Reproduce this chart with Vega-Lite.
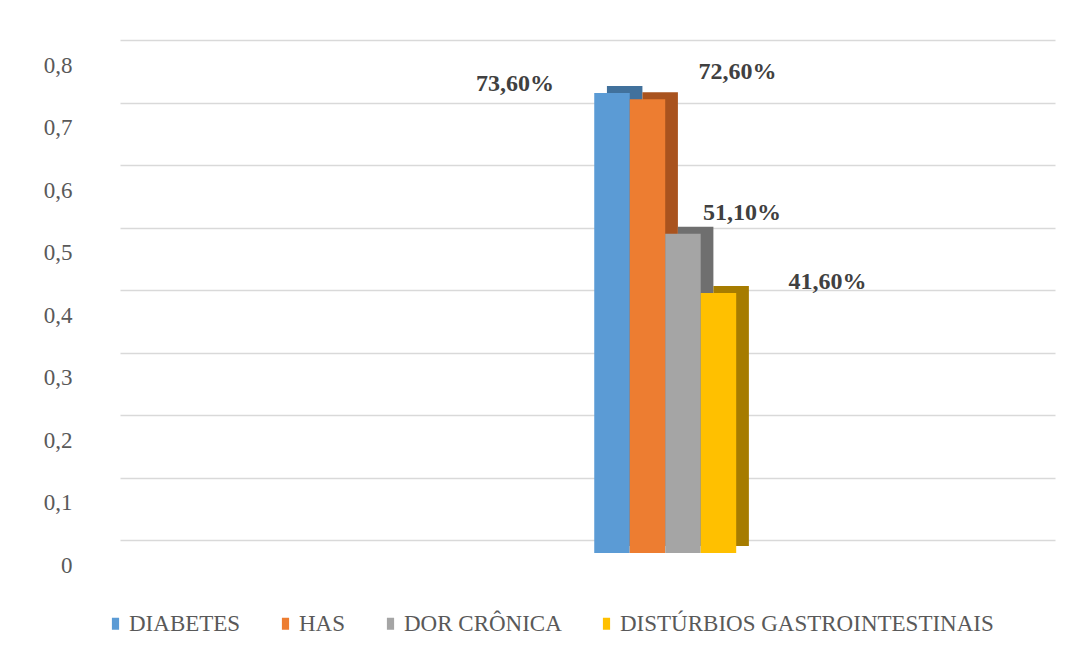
{
  "$schema": "https://vega.github.io/schema/vega-lite/v6.json",
  "width": 935,
  "height": 500,
  "autosize": {"type": "none"},
  "padding": {"left": 120, "top": 40, "right": 36, "bottom": 114},
  "background": "white",
  "config": {
    "locale": {"number": {"decimal": ",", "thousands": ".", "grouping": [3], "currency": ["R$", ""]}},
    "view": {"stroke": null},
    "font": "Liberation Serif"
  },
  "data": {
    "values": [
      {"grupo": "Comorbidades", "condicao": "DIABETES", "valor": 0.736},
      {"grupo": "Comorbidades", "condicao": "HAS", "valor": 0.726},
      {"grupo": "Comorbidades", "condicao": "DOR CRÔNICA", "valor": 0.511},
      {"grupo": "Comorbidades", "condicao": "DISTÚRBIOS GASTROINTESTINAIS", "valor": 0.416}
    ]
  },
  "encoding": {
    "xOffset": {"field": "condicao", "type": "nominal", "sort": ["DIABETES", "HAS", "DOR CRÔNICA", "DISTÚRBIOS GASTROINTESTINAIS"], "scale": {"paddingInner": 0, "paddingOuter": 0}},
    "y": {
      "field": "valor", "type": "quantitative",
      "scale": {"domain": [0, 0.8], "nice": false},
      "axis": {
        "values": [0, 0.1, 0.2, 0.3, 0.4, 0.5, 0.6, 0.7, 0.8],
        "format": ".1~f",
        "grid": true, "gridColor": "#D9D9D9", "gridWidth": 1.5,
        "domain": false, "ticks": false,
        "labelPadding": 48, "labelOffset": 25,
        "labelFont": "Liberation Serif", "labelFontSize": 23, "labelColor": "#595959",
        "title": null
      }
    }
  },
  "layer": [
    {
      "mark": {"type": "bar", "yOffset": 6, "y2Offset": 6},
      "encoding": {
        "x": {"field": "grupo", "type": "nominal", "scale": {"paddingInner": 0.642, "paddingOuter": 1, "align": 0.614}, "axis": null},
        "color": {"field": "condicao", "type": "nominal", "legend": null,
          "scale": {"domain": ["DIABETES", "HAS", "DOR CRÔNICA", "DISTÚRBIOS GASTROINTESTINAIS"], "range": ["#41719C", "#A9531E", "#6F6F6F", "#A67C00"]}}
      }
    },
    {
      "encoding": {
        "x": {"field": "grupo", "type": "nominal", "scale": {"paddingInner": 0.642, "paddingOuter": 1, "align": 0.598}, "axis": null}
      },
      "layer": [
        {
          "mark": {"type": "bar", "yOffset": 13, "y2Offset": 13},
          "encoding": {
            "color": {"field": "condicao", "type": "nominal",
              "scale": {"domain": ["DIABETES", "HAS", "DOR CRÔNICA", "DISTÚRBIOS GASTROINTESTINAIS"], "range": ["#5B9BD5", "#ED7D31", "#A5A5A5", "#FFC000"]},
              "legend": {
                "title": null, "orient": "none", "direction": "horizontal",
                "legendX": -16, "legendY": 572,
                "symbolType": "M-0.6,-1H0.6V1H-0.6Z", "symbolSize": 144, "symbolStrokeWidth": 0,
                "labelFont": "Liberation Serif", "labelFontSize": 23, "labelColor": "#595959",
                "labelOffset": 2, "columnPadding": 33, "labelLimit": 500
              }
            }
          }
        },
        {
          "transform": [{"filter": "datum.condicao == 'DIABETES'"}],
          "mark": {"type": "text", "font": "Liberation Serif", "fontWeight": "bold", "fontSize": 24, "color": "#404040", "baseline": "middle", "dx": -97, "dy": 4},
          "encoding": {"text": {"field": "valor", "type": "quantitative", "format": ".2%"}}
        },
        {
          "transform": [{"filter": "datum.condicao == 'HAS'"}],
          "mark": {"type": "text", "font": "Liberation Serif", "fontWeight": "bold", "fontSize": 24, "color": "#404040", "baseline": "middle", "dx": 90, "dy": -14},
          "encoding": {"text": {"field": "valor", "type": "quantitative", "format": ".2%"}}
        },
        {
          "transform": [{"filter": "datum.condicao == 'DOR CRÔNICA'"}],
          "mark": {"type": "text", "font": "Liberation Serif", "fontWeight": "bold", "fontSize": 24, "color": "#404040", "baseline": "middle", "dx": 59, "dy": -8},
          "encoding": {"text": {"field": "valor", "type": "quantitative", "format": ".2%"}}
        },
        {
          "transform": [{"filter": "datum.condicao == 'DISTÚRBIOS GASTROINTESTINAIS'"}],
          "mark": {"type": "text", "font": "Liberation Serif", "fontWeight": "bold", "fontSize": 24, "color": "#404040", "baseline": "middle", "dx": 109, "dy": 2},
          "encoding": {"text": {"field": "valor", "type": "quantitative", "format": ".2%"}}
        }
      ]
    }
  ],
  "resolve": {"scale": {"x": "independent", "color": "independent"}, "legend": {"color": "independent"}}
}
